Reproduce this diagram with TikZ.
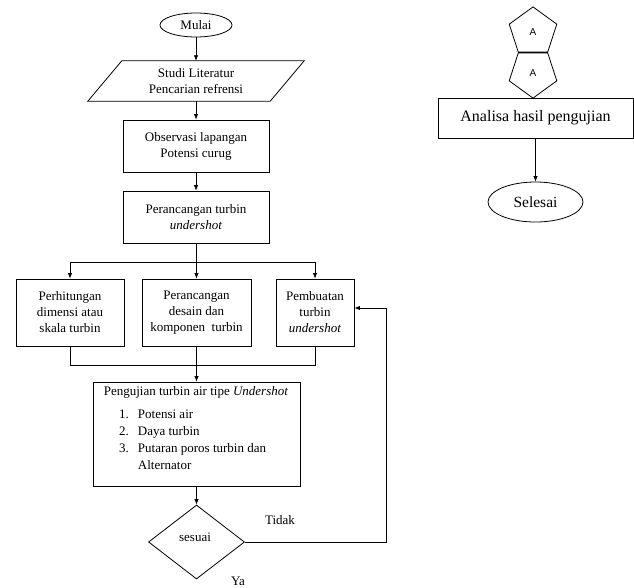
\documentclass[tikz,border=0pt]{standalone}
\usepackage{fontspec}
\setmainfont{Liberation Serif}
\newfontfamily\sansA{Liberation Sans}
\usetikzlibrary{shapes.geometric,arrows.meta,calc}
\tikzset{
  ln/.style={line width=0.8pt},
  arr/.style={ln,-{Latex[length=5.5pt,width=4.5pt]}},
  box/.style={draw,ln,rectangle,inner sep=0pt,align=center,font=\fontsize{13}{16}\selectfont},
  term/.style={draw,ln,ellipse,inner sep=0pt,font=\fontsize{13}{16}\selectfont},
  lbl/.style={inner sep=0pt,font=\fontsize{13}{16}\selectfont},
  conn/.style={draw,ln,regular polygon,regular polygon sides=5,minimum size=50pt,inner sep=0pt,font=\sansA\fontsize{10}{12}\selectfont}
}
\begin{document}
\begin{tikzpicture}[x=1pt,y=-1pt]
\useasboundingbox (0,0) rectangle (634,587);
% left column
\node[term,minimum width=72pt,minimum height=24pt] (mulai) at (196,25) {Mulai};
\node[lbl,align=center,minimum width=182pt,minimum height=40pt] (lit) at (196,81) {Studi Literatur\\Pencarian refrensi};
\draw[ln] ($(lit.north west)+(17,0)$) -- ($(lit.north east)+(17,0)$) -- ($(lit.south east)+(-17,0)$) -- ($(lit.south west)+(-17,0)$) -- cycle;
\node[box,minimum width=146pt,minimum height=52pt] (obs) at (196,146) {Observasi lapangan\\Potensi curug};
\node[box,minimum width=146pt,minimum height=52pt] (per) at (196,217) {Perancangan turbin\\\textit{undershot}};
\node[box,minimum width=108pt,minimum height=67pt] (b1) at (70,312.5) {Perhitungan\\dimensi atau\\skala turbin};
\node[box,minimum width=109pt,minimum height=67pt] (b2) at (196.5,312.5) {Perancangan\\desain dan\\komponen\ \ turbin};
\node[box,minimum width=78pt,minimum height=67pt] (b3) at (315,312.5) {Pembuatan\\turbin\\\textit{undershot}};
\node[box,minimum width=207pt,minimum height=104pt] (uji) at (196.5,434) {};
\node[lbl] (ujit) at (196,392) {Pengujian turbin air tipe \textit{Undershot}};
\node[lbl,anchor=north west,align=left] (ujil) at (119,406) {\fontsize{13}{17}\selectfont\begin{tabular}{@{}r@{\hspace{9pt}}l@{}}1. & Potensi air\\ 2. & Daya turbin\\ 3. & Putaran poros turbin dan\\ & Alternator\end{tabular}};
\node[draw,ln,diamond,minimum width=96pt,minimum height=74pt,inner sep=0pt,font=\fontsize{13}{16}\selectfont] (dec) at (196.5,542) {};
\node[lbl] (sesuai) at (195,537) {sesuai};
\node[lbl] (tidak) at (280,520) {Tidak};
\node[lbl] (ya) at (238,581) {Ya};
\coordinate (sp) at (196,262);
\coordinate (mg) at (196,365);
\coordinate (fb) at (386,308);
% connectors left
\draw[arr] (mulai.south) -- (mulai.south |- lit.north);
\draw[arr] (mulai.south |- lit.south) -- (obs.north);
\draw[arr] (obs.south) -- (per.south |- per.north);
\draw[ln] (per.south) -- (sp);
\draw[ln] (b1.north |- sp) -- (b3.north |- sp);
\draw[arr] (b1.north |- sp) -- (b1.north);
\draw[arr] (b2.north |- sp) -- (b2.north);
\draw[arr] (b3.north |- sp) -- (b3.north);
\draw[ln] (b1.south) -- (b1.south |- mg) -- (b3.south |- mg) -- (b3.south);
\draw[arr] (b2.south) -- (uji.north);
\draw[arr] (uji.south) -- (dec.north);
\draw[arr] (dec.east) -| (fb) -- (b3.east |- fb);
% right column
\node[conn] (pa1) at (533,31.9) {A};
\node[conn,shape border rotate=180] (pa2) at (533,73.1) {A};
\draw[line width=1.6pt] (pa1.corner 3) -- (pa1.corner 4);
\node[box,minimum width=195pt,minimum height=40pt,font=\fontsize{16}{19}\selectfont] (ana) at (535.5,118) {Analisa hasil pengujian};
\node[term,minimum width=95pt,minimum height=40pt,font=\fontsize{15.5}{18}\selectfont] (sel) at (535.5,202) {Selesai};
\draw[arr] (ana.south) -- (sel.north);
\end{tikzpicture}
\end{document}
